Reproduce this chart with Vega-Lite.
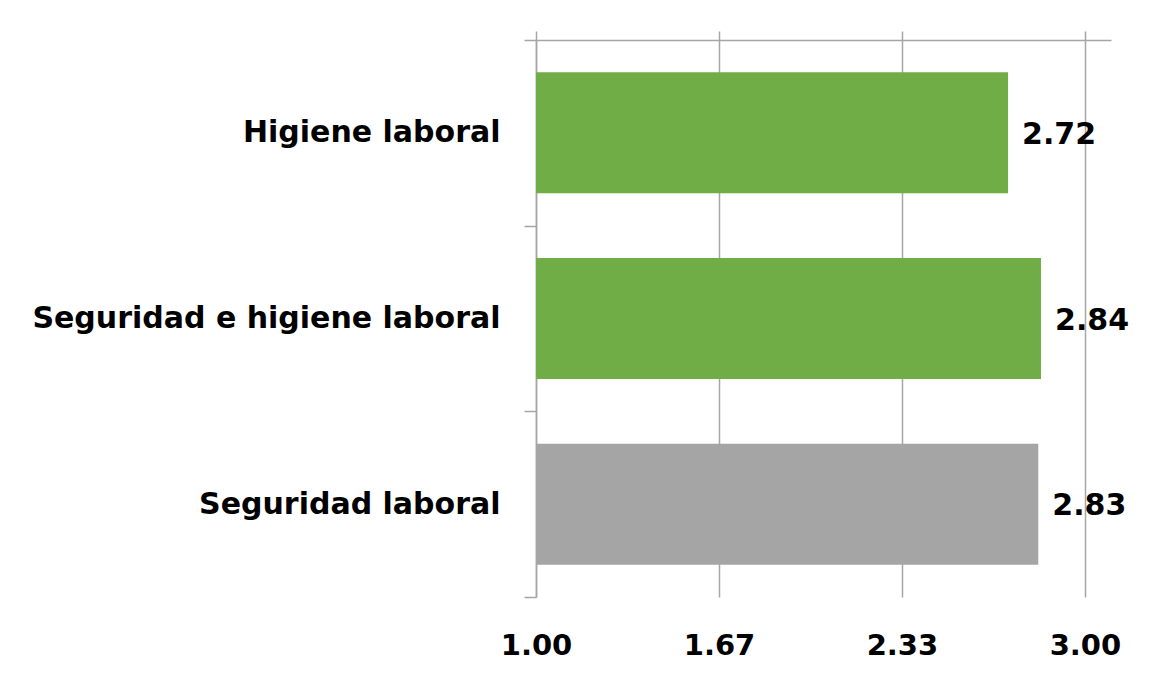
{
  "$schema": "https://vega.github.io/schema/vega-lite/v6.json",
  "width": 575,
  "height": 557,
  "autosize": {"type": "none"},
  "padding": {"left": 536, "top": 40, "right": 55, "bottom": 79},
  "background": "white",
  "config": {"view": {"stroke": null}, "font": "DejaVu Sans"},
  "data": {
    "values": [
      {"dimension": "Higiene laboral", "score": 2.72},
      {"dimension": "Seguridad e higiene laboral", "score": 2.84},
      {"dimension": "Seguridad laboral", "score": 2.83}
    ]
  },
  "encoding": {
    "y": {
      "field": "dimension",
      "type": "nominal",
      "sort": null,
      "scale": {"paddingInner": 0, "paddingOuter": 0},
      "axis": {
        "title": null,
        "domain": true,
        "domainColor": "#a6a6a6",
        "domainWidth": 1.5,
        "ticks": true,
        "tickBand": "extent",
        "tickSize": 12,
        "tickColor": "#a6a6a6",
        "tickWidth": 1.5,
        "labelFont": "DejaVu Sans",
        "labelFontWeight": "bold",
        "labelFontSize": 30,
        "labelColor": "black",
        "labelPadding": 24,
        "labelLimit": 600,
        "grid": false
      }
    }
  },
  "layer": [
    {
      "mark": {"type": "bar", "height": {"band": 0.652}},
      "encoding": {
        "x": {
          "field": "score",
          "type": "quantitative",
          "scale": {"domain": [1, 3.095], "nice": false, "zero": false},
          "axis": {
            "orient": "top",
            "values": [1, 1.6667, 2.3333, 3],
            "labels": false,
            "ticks": true,
            "tickSize": 9,
            "tickColor": "#a6a6a6",
            "tickWidth": 1.5,
            "domain": true,
            "domainColor": "#a6a6a6",
            "domainWidth": 1.5,
            "grid": true,
            "gridColor": "#a6a6a6",
            "gridWidth": 1.5,
            "title": null
          }
        },
        "x2": {"datum": 1},
        "color": {
          "field": "dimension",
          "type": "nominal",
          "scale": {
            "domain": ["Higiene laboral", "Seguridad e higiene laboral", "Seguridad laboral"],
            "range": ["#70AD47", "#70AD47", "#A5A5A5"]
          },
          "legend": null
        }
      }
    },
    {
      "mark": {
        "type": "text",
        "align": "left",
        "baseline": "middle",
        "dx": 14,
        "dy": 2,
        "font": "DejaVu Sans",
        "fontWeight": "bold",
        "fontSize": 30,
        "color": "black"
      },
      "encoding": {
        "x": {
          "field": "score",
          "type": "quantitative",
          "axis": {
            "orient": "bottom",
            "values": [1, 1.6667, 2.3333, 3],
            "format": ".2f",
            "labels": true,
            "ticks": false,
            "tickSize": 0,
            "domain": false,
            "grid": false,
            "labelFont": "DejaVu Sans",
            "labelFontWeight": "bold",
            "labelFontSize": 29,
            "labelColor": "black",
            "labelPadding": 34,
            "labelFlush": false,
            "labelOverlap": false,
            "labelBound": false,
            "title": null
          }
        },
        "text": {"field": "score", "type": "quantitative", "format": ".2f"}
      }
    }
  ],
  "resolve": {"axis": {"x": "independent"}}
}
